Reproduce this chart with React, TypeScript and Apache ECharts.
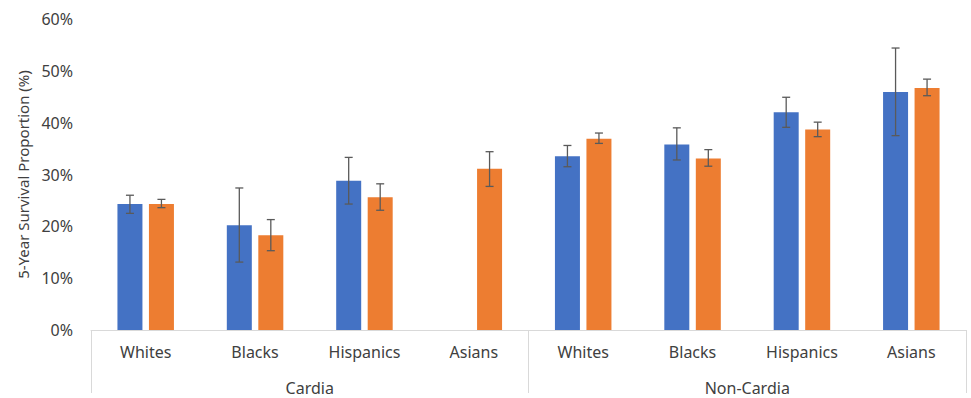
import React, { useEffect, useRef } from "react";
import * as echarts from "echarts";

const categories = ["Whites", "Blacks", "Hispanics", "Asians", "Whites", "Blacks", "Hispanics", "Asians"];
const groups = ["Cardia", "Non-Cardia"];
const yTicks = [0, 10, 20, 30, 40, 50, 60];

const blueValues: (number | null)[] = [24.3, 20.2, 28.8, null, 33.5, 35.8, 42.0, 45.9];
const blueLow: (number | null)[] = [22.5, 13.1, 24.3, null, 31.5, 32.8, 39.1, 37.5];
const blueHigh: (number | null)[] = [26.0, 27.4, 33.3, null, 35.6, 39.0, 44.9, 54.4];

const orangeValues: number[] = [24.3, 18.3, 25.6, 31.1, 36.9, 33.1, 38.7, 46.7];
const orangeLow: number[] = [23.6, 15.3, 23.1, 27.7, 36.0, 31.6, 37.3, 45.2];
const orangeHigh: number[] = [25.2, 21.3, 28.2, 34.4, 38.0, 34.8, 40.1, 48.4];

const BLUE = "#4472C4";
const ORANGE = "#ED7D31";
const BAR_W = 25;
const GAP = 6.5;
const OFFSET = BAR_W / 2 + GAP / 2;

function errorSeries(low: (number | null)[], high: (number | null)[], dir: number) {
  const data: any[] = [];
  low.forEach((l, i) => {
    const h = high[i];
    if (l != null && h != null) data.push([i, l, h]);
  });
  return {
    type: "custom",
    xAxisIndex: 0,
    yAxisIndex: 0,
    silent: true,
    z: 10,
    data,
    encode: { x: 0, y: [1, 2] },
    renderItem: (params: any, api: any) => {
      const idx = api.value(0);
      const lo = api.coord([idx, api.value(1)]);
      const hi = api.coord([idx, api.value(2)]);
      const x = lo[0] + dir * OFFSET;
      const cap = 4;
      const style = { stroke: "#5a5a5a", lineWidth: 1.3, fill: "none" };
      return {
        type: "group",
        children: [
          { type: "line", shape: { x1: x, y1: lo[1], x2: x, y2: hi[1] }, style },
          { type: "line", shape: { x1: x - cap, y1: lo[1], x2: x + cap, y2: lo[1] }, style },
          { type: "line", shape: { x1: x - cap, y1: hi[1], x2: x + cap, y2: hi[1] }, style },
        ],
      };
    },
  };
}

export default function App() {
  const ref = useRef<HTMLDivElement>(null);
  useEffect(() => {
    if (!ref.current) return;
    const chart = echarts.init(ref.current, null, { renderer: "svg" });
    const font = "'Noto Sans', 'Open Sans', sans-serif";
    chart.setOption({
      animation: false,
      backgroundColor: "#ffffff",
      textStyle: { fontFamily: font },
      grid: { left: 91, right: 5, top: 19, bottom: 68, containLabel: false },
      xAxis: [
        {
          type: "category",
          data: categories,
          position: "bottom",
          axisLine: { show: true, lineStyle: { color: "#d9d9d9", width: 1 } },
          axisTick: { show: false },
          axisLabel: { color: "#404040", fontSize: 16, margin: 14, fontFamily: font, interval: 0 },
          splitLine: { show: false },
        },
        {
          type: "category",
          data: groups,
          position: "bottom",
          axisLine: { show: false },
          axisTick: { show: true, length: 63, lineStyle: { color: "#d9d9d9", width: 1 } },
          axisLabel: { color: "#404040", fontSize: 16, margin: 50, fontFamily: font, interval: 0 },
          splitLine: { show: false },
        },
      ],
      yAxis: {
        type: "value",
        min: 0,
        max: 60,
        interval: 10,
        name: "5-Year Survival Proportion (%)",
        nameLocation: "middle",
        nameGap: 60,
        nameTextStyle: { color: "#404040", fontSize: 15, fontFamily: font },
        axisLine: { show: false },
        axisTick: { show: false },
        splitLine: { show: false },
        axisLabel: {
          color: "#404040",
          fontSize: 16,
          margin: 18,
          fontFamily: font,
          formatter: (v: number) => (yTicks.includes(v) ? v + "%" : ""),
        },
      },
      series: [
        {
          type: "bar",
          name: "Blue",
          data: blueValues.map((v) => (v == null ? "-" : v)),
          barWidth: BAR_W,
          barGap: (GAP / BAR_W) * 100 + "%",
          itemStyle: { color: BLUE },
        },
        {
          type: "bar",
          name: "Orange",
          data: orangeValues,
          barWidth: BAR_W,
          itemStyle: { color: ORANGE },
        },
        errorSeries(blueLow, blueHigh, -1),
        errorSeries(orangeLow, orangeHigh, 1),
      ],
    });
    return () => chart.dispose();
  }, []);
  return (
    <div
      ref={ref}
      style={{ position: "fixed", left: 0, top: 0, width: 971, height: 398, background: "#fff" }}
    />
  );
}
